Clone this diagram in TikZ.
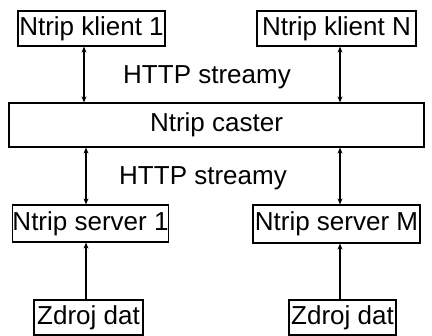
\documentclass[tikz,border=0pt]{standalone}
\usepackage{fontspec}
\setmainfont{Liberation Sans}
\usetikzlibrary{arrows.meta}
\begin{document}
\begin{tikzpicture}[x=1pt,y=-1pt,
  box/.style={draw, line width=1.2pt, inner sep=0pt, font=\fontsize{26}{26}\selectfont},
  lbl/.style={inner sep=0pt, font=\fontsize{26}{26}\selectfont},
  tip/.tip={Stealth[length=6pt,width=5pt]},
  conn/.style={line width=1.2pt, tip-tip},
  feed/.style={line width=1.2pt, -tip}]
\useasboundingbox[fill=white] (0,0) rectangle (432,336);
\node[box, minimum width=147, minimum height=35] (k1) at (91.5,28.5) {Ntrip klient 1};
\node[box, minimum width=159, minimum height=35] (kn) at (336.5,28.5) {Ntrip klient N};
\node[box, minimum width=415, minimum height=44] (caster) at (216.5,125) {Ntrip caster};
\node[box, minimum width=155, minimum height=37] (s1) at (90.5,223.5) {Ntrip server 1};
\node[box, minimum width=167, minimum height=38] (sm) at (336.5,224) {Ntrip server M};
\node[box, minimum width=109, minimum height=35] (z1) at (88.5,317.5) {Zdroj dat};
\node[box, minimum width=107, minimum height=35] (z2) at (342.5,317.5) {Zdroj dat};
\node[lbl] (l1) at (207,77) {HTTP streamy};
\node[lbl] (l2) at (203,178) {HTTP streamy};
\coordinate (xa) at (84,0);
\coordinate (xb) at (86,0);
\coordinate (xr) at (340,0);
\draw[conn] (k1.south -| xa) -- (caster.north -| xa);
\draw[conn] (kn.south -| xr) -- (caster.north -| xr);
\draw[conn] (caster.south -| xb) -- (s1.north -| xb);
\draw[conn] (caster.south -| xr) -- (sm.north -| xr);
\draw[feed] (z1.north -| xb) -- (s1.south -| xb);
\draw[feed] (z2.north -| xr) -- (sm.south -| xr);
\end{tikzpicture}
\end{document}
